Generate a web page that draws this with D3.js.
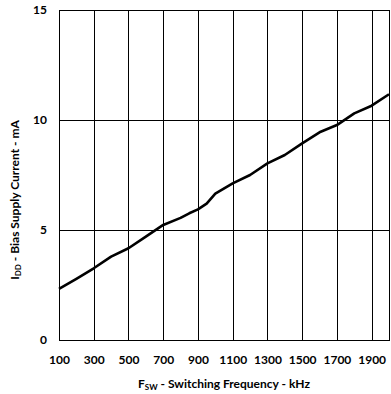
<!DOCTYPE html>
<html><head><meta charset="utf-8">
<script src="https://cdn.jsdelivr.net/npm/d3@7"></script>
<style>body{margin:0;background:#fff}svg{display:block}text{font-family:Lato,"Open Sans",sans-serif;font-weight:bold;fill:#000}</style>
</head><body>
<script>
const freq = [100,200,300,400,500,600,700,800,850,900,950,1000,1100,1200,1300,1400,1500,1600,1700,1800,1900,2000];
const idd = [2.32,2.78,3.26,3.79,4.17,4.7,5.23,5.55,5.76,5.94,6.2,6.65,7.12,7.5,8.03,8.41,8.94,9.44,9.77,10.3,10.65,11.17];
const xTicks = [100,300,500,700,900,1100,1300,1500,1700,1900];
const yTicks = [0,5,10,15];

const W=391,H=394, L=59, R=389, T=10, B=340;
const svg=d3.select("body").append("svg").attr("width",W).attr("height",H);
const x=d3.scaleLinear().domain([100,2000]).range([L,R]);
const y=d3.scaleLinear().domain([0,15]).range([B,T]);

const g=svg.append("g");
g.selectAll(".vg").data(xTicks).join("line").attr("x1",d=>Math.round(x(d))+0.5).attr("x2",d=>Math.round(x(d))+0.5)
 .attr("y1",T).attr("y2",B).attr("stroke","#000").attr("stroke-width",1);
g.selectAll(".hg").data(yTicks).join("line").attr("y1",d=>Math.round(y(d))+0.5).attr("y2",d=>Math.round(y(d))+0.5)
 .attr("x1",L).attr("x2",R).attr("stroke","#000").attr("stroke-width",1);
g.append("rect").attr("x",L+0.5).attr("y",T+0.5).attr("width",R-L).attr("height",B-T).attr("fill","none").attr("stroke","#000");

const xa=svg.append("g").attr("transform",`translate(0,${B})`).call(d3.axisBottom(x).tickValues(xTicks).tickSize(0).tickPadding(15).tickFormat(d3.format("d")));
xa.select(".domain").remove();
xa.selectAll("text").style("font-size","12px").style("font-family","Lato").style("font-weight","bold");
const ya=svg.append("g").attr("transform",`translate(${L},0)`).call(d3.axisLeft(y).tickValues(yTicks).tickSize(0).tickPadding(12).tickFormat(d3.format("d")));
ya.select(".domain").remove();
ya.selectAll("text").style("font-size","12px").style("font-family","Lato").style("font-weight","bold");

svg.append("path").datum(freq.map((f,i)=>[f,idd[i]]))
 .attr("d",d3.line().x(d=>x(d[0])).y(d=>y(d[1])))
 .attr("fill","none").attr("stroke","#000").attr("stroke-width",2.6).attr("stroke-linejoin","round");

const xt=svg.append("text").attr("x",224).attr("y",388).attr("text-anchor","middle").style("font-size","12px");
xt.append("tspan").text("F");
xt.append("tspan").text("SW").style("font-size","8px").attr("dy",2);
xt.append("tspan").text(" - Switching Frequency - kHz").attr("dy",-2);

const yt=svg.append("text").attr("transform","translate(19,200) rotate(-90)").attr("text-anchor","middle").style("font-size","12px");
yt.append("tspan").text("I");
yt.append("tspan").text("DD").style("font-size","8px").attr("dy",2);
yt.append("tspan").text(" - Bias Supply Current - mA").attr("dy",-2);
</script>
</body></html>
